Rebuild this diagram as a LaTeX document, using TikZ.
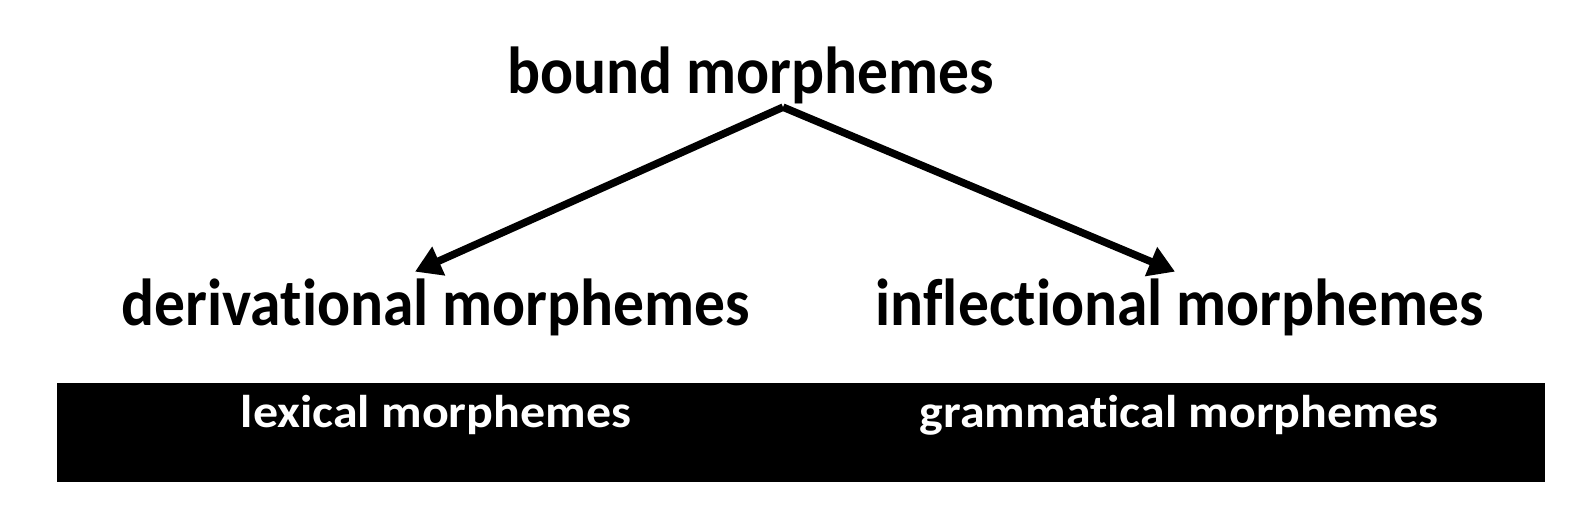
\documentclass[tikz,border=0pt]{standalone}
\usepackage{fontspec}
\setmainfont{Carlito}[Ligatures={NoCommon}]
\usepackage{graphicx}
\usepackage{tikz}
\usetikzlibrary{arrows.meta}

\newcommand{\tallword}[1]{\scalebox{1}[1.08]{#1}}
\newcommand{\flatword}[1]{\scalebox{1}[0.92]{#1}}

\tikzset{
	bigterm/.style={anchor=base, inner sep=0pt, font=\fontsize{17.5}{20}\selectfont\bfseries},
	barterm/.style={anchor=base, inner sep=0pt, text=white, font=\fontsize{14.2}{17}\selectfont\bfseries},
	branch/.style={line width=0.075cm, -{Triangle[length=0.26cm, width=0.3cm]}}
}

\begin{document}
\begin{tikzpicture}[x=0.01cm, y=-0.01cm]
			\useasboundingbox (0,0) rectangle (1588,521);
			% black band
			\fill (57,383) rectangle (1545,482);
			\node [bigterm] (bound) at (751,93) {\tallword{bound morphemes}};
			\node [bigterm] (deriv) at (436,325) {\tallword{derivational morphemes}};
			\node [bigterm] (inflect) at (1180,325) {\tallword{inflectional morphemes}};
			\node [barterm] (lexical) at (436,427) {\flatword{lexical morphemes}};
			\node [barterm] (gramm) at (1179,427) {\flatword{grammatical morphemes}};
			\coordinate (fork) at ([xshift=0.32cm, yshift=-0.03cm]bound.south);
			\draw [branch] (fork) -- ([xshift=-0.21cm, yshift=0.06cm]deriv.north);
			\draw [branch] (fork) -- ([xshift=-0.05cm, yshift=0.06cm]inflect.north);
		\end{tikzpicture}
\end{document}
